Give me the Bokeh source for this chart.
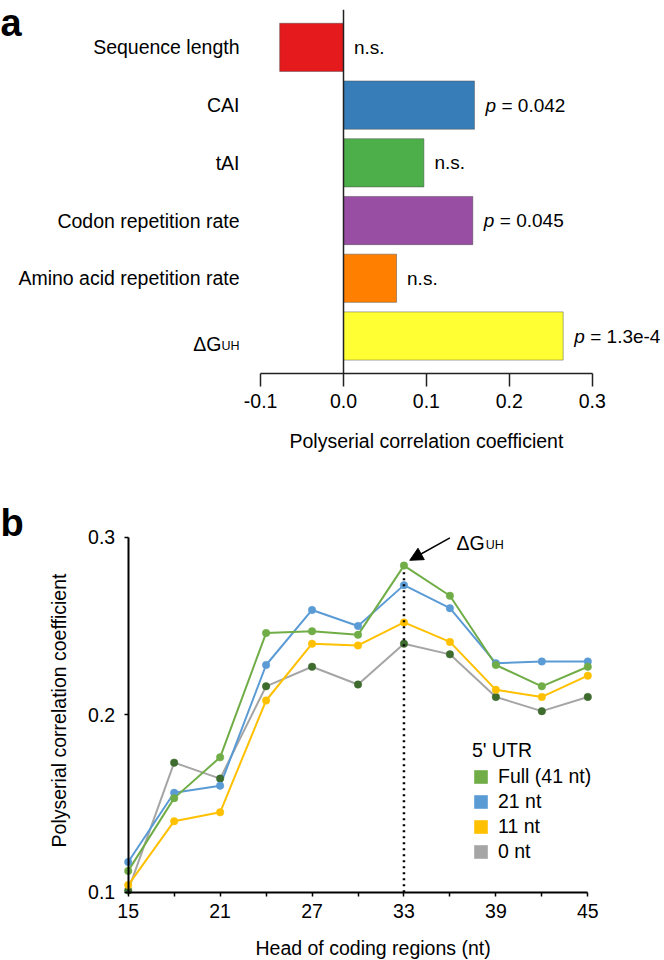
import math
from bokeh.plotting import figure
from bokeh.models import (Range1d, LinearAxis, FixedTicker, PrintfTickFormatter,
                          Arrow, NormalHead, Legend, LegendItem)
from bokeh.layouts import column
from bokeh.core.properties import value
from bokeh.embed import file_html
from bokeh.resources import INLINE

FONT = "Liberation Sans"
FS = "19.5px"
NAN = float("nan")

# ---------------- Panel a data ----------------
features = ["Sequence length", "CAI", "tAI", "Codon repetition rate",
            "Amino acid repetition rate", "ΔG"]
feature_sub = ["", "", "", "", "", "UH"]
coefficients = [-0.077, 0.158, 0.097, 0.156, 0.064, 0.265]
bar_colors = ["#E41A1C", "#377EB8", "#4DAF4A", "#984EA3", "#FF7F00", "#FFFF33"]
p_values = ["n.s.", "0.042", "n.s.", "0.045", "n.s.", "1.3e-4"]
a_ticks = [-0.1, 0.0, 0.1, 0.2, 0.3]

# ---------------- Panel b data ----------------
head_nt = [15, 18, 21, 24, 27, 30, 33, 36, 39, 42, 45]
full_41 = [0.112, 0.153, 0.176, 0.246, 0.247, 0.245, 0.284, 0.267, 0.228, 0.216, 0.227]
nt_21 = [0.117, 0.156, 0.160, 0.228, 0.259, 0.250, 0.273, 0.260, 0.229, 0.230, 0.230]
nt_11 = [0.104, 0.140, 0.145, 0.208, 0.240, 0.239, 0.252, 0.241, 0.214, 0.210, 0.222]
nt_0 = [0.101, 0.173, 0.164, 0.216, 0.227, 0.217, 0.240, 0.234, 0.210, 0.202, 0.210]
series_names = ["Full (41 nt)", "21 nt", "11 nt", "0 nt"]
series_vals = [full_41, nt_21, nt_11, nt_0]
line_colors = ["#70AD47", "#5B9BD5", "#FFC000", "#A5A5A5"]
marker_colors = ["#70AD47", "#5B9BD5", "#FFC000", "#3E6B2E"]
b_major = [15, 21, 27, 33, 39, 45]
b_minor = [18, 24, 30, 36, 42]
b_yticks = [0.1, 0.2, 0.3]

W = 664

# ================= Panel a =================
HA = 453
PXA = 829.0        # px per unit
ZX = 343.0         # frame x of zero
ROW0 = 46.85       # frame y of first row centre
PITCH = 57.73      # px per row
pa = figure(width=W, height=HA,
            x_range=Range1d(-ZX / PXA, (W - ZX) / PXA),
            y_range=Range1d((HA - ROW0) / PITCH, -ROW0 / PITCH),
            x_axis_type=None, y_axis_type=None, toolbar_location=None,
            output_backend="svg", min_border=0, outline_line_color=None)
pa.xgrid.visible = False
pa.ygrid.visible = False

idx = list(range(len(features)))
pa.hbar(y=idx, left=0, right=coefficients, height=0.835, fill_color=bar_colors,
        line_color="#444444", line_alpha=0.45, line_width=1)

axis_row = (372.7 - ROW0) / PITCH
top_row = (9.3 - ROW0) / PITCH
pa.segment(x0=[0], y0=[top_row], x1=[0], y1=[axis_row], line_color="#222222", line_width=1.5)

# category labels
plain = [i for i in idx if not feature_sub[i]]
pa.text(x=[0] * len(plain), y=plain, text=[features[i] for i in plain],
        x_offset=-104, text_align="right", text_baseline="middle",
        text_font=value(FONT), text_font_size=FS, text_color="black")
subs = [i for i in idx if feature_sub[i]]
pa.text(x=[0] * len(subs), y=[i + 0.14 for i in subs], text=[features[i] for i in subs],
        x_offset=-122, text_align="right", text_baseline="alphabetic",
        text_font=value(FONT), text_font_size=FS, text_color="black")
pa.text(x=[0] * len(subs), y=[i + 0.14 for i in subs], text=[feature_sub[i] for i in subs],
        x_offset=-104, y_offset=1.5, text_align="right", text_baseline="alphabetic",
        text_font=value(FONT), text_font_size="12.5px", text_color="black")

# significance annotations
ns = [i for i in idx if p_values[i] == "n.s."]
sig = [i for i in idx if p_values[i] != "n.s."]
pa.text(x=[max(coefficients[i], 0) for i in ns], y=ns, text=["n.s." for i in ns],
        x_offset=10.5, text_align="left", text_baseline="middle",
        text_font=value(FONT), text_font_size="19px", text_color="black")
pa.text(x=[max(coefficients[i], 0) for i in sig], y=sig, text=["p" for i in sig],
        x_offset=11, text_align="left", text_baseline="middle",
        text_font=value(FONT), text_font_size="19px", text_font_style="italic",
        text_color="black")
pa.text(x=[max(coefficients[i], 0) for i in sig], y=sig, text=["= " + p_values[i] for i in sig],
        x_offset=27, text_align="left", text_baseline="middle",
        text_font=value(FONT), text_font_size="19px", text_color="black")

ax_a = LinearAxis(fixed_location=axis_row, bounds=(a_ticks[0], a_ticks[-1]),
                  ticker=FixedTicker(ticks=a_ticks),
                  formatter=PrintfTickFormatter(format="%.1f"),
                  major_tick_out=13, major_tick_in=0, minor_tick_out=0, minor_tick_in=0,
                  axis_line_width=1.5, major_tick_line_width=1.5,
                  axis_line_color="#222222", major_tick_line_color="#222222",
                  major_label_standoff=8, major_label_text_font=FONT,
                  major_label_text_font_size=FS, major_label_text_color="black")
pa.add_layout(ax_a, "below")

pa.text(x=[(a_ticks[0] + a_ticks[-1]) / 2], y=[(440.5 - ROW0) / PITCH],
        text=["Polyserial correlation coefficient"], text_align="center",
        text_baseline="middle", text_font=value(FONT), text_font_size=FS,
        text_color="black")
pa.text(x=[pa.x_range.start], y=[(22.5 - ROW0) / PITCH], text=["a"],
        text_align="left", text_baseline="alphabetic", text_font=value(FONT),
        text_font_size="38px", text_font_style="bold", text_color="black")

# ================= Panel b =================
HB = 507
PXX = 15.32        # px per nt
X15 = 127.7        # frame x of 15
PXY = 1775.0       # px per unit
Y01 = 438.7        # frame y (from top) of 0.1
pb = figure(width=W, height=HB,
            x_range=Range1d(15 - X15 / PXX, 15 + (W - X15) / PXX),
            y_range=Range1d(0.1 - (HB - Y01) / PXY, 0.1 + Y01 / PXY),
            x_axis_type=None, y_axis_type=None, toolbar_location=None,
            output_backend="svg", min_border=0, outline_line_color=None)
pb.xgrid.visible = False
pb.ygrid.visible = False

for vals, lc in reversed(list(zip(series_vals, line_colors))):
    pb.line(head_nt, vals, line_color=lc, line_width=2)
for vals, mc in reversed(list(zip(series_vals, marker_colors))):
    pb.scatter(head_nt, vals, size=7.5, fill_color=mc, line_color=mc, line_width=0.5)

peak_i = max(range(len(full_41)), key=lambda i: full_41[i])
peak_x, peak_y = head_nt[peak_i], full_41[peak_i]
pb.segment(x0=[peak_x], y0=[0.1], x1=[peak_x], y1=[peak_y - 0.002],
           line_color="black", line_width=2.5, line_dash="2 4")

pb.add_layout(Arrow(end=NormalHead(size=13, fill_color="black", line_color="black"),
                    x_start=peak_x + 3.0, y_start=peak_y + 0.0156,
                    x_end=peak_x + 0.38, y_end=peak_y + 0.003,
                    line_color="black", line_width=1.5))
pb.text(x=[peak_x + 3.43], y=[peak_y + 0.0125], text=["ΔG"], text_align="left",
        text_baseline="alphabetic", text_font=value(FONT), text_font_size=FS,
        text_color="black")
pb.text(x=[peak_x + 3.43], y=[peak_y + 0.0125], text=["UH"], x_offset=29.3, y_offset=1.5,
        text_align="left", text_baseline="alphabetic", text_font=value(FONT),
        text_font_size="12.5px", text_color="black")

xb = LinearAxis(fixed_location=0.1, bounds=(b_major[0], b_major[-1]),
                ticker=FixedTicker(ticks=b_major, minor_ticks=b_minor),
                major_tick_out=4, major_tick_in=0, minor_tick_out=4, minor_tick_in=0,
                axis_line_width=2, major_tick_line_width=1.5, minor_tick_line_width=1.5,
                major_label_standoff=8, major_label_text_font=FONT,
                major_label_text_font_size=FS, major_label_text_color="black")
pb.add_layout(xb, "below")
yb = LinearAxis(fixed_location=15, bounds=(b_yticks[0], b_yticks[-1]),
                ticker=FixedTicker(ticks=b_yticks),
                formatter=PrintfTickFormatter(format="%.1f"),
                major_tick_out=4, major_tick_in=0, minor_tick_out=0, minor_tick_in=0,
                axis_line_width=2, major_tick_line_width=1.5,
                major_label_standoff=9, major_label_text_font=FONT,
                major_label_text_font_size=FS, major_label_text_color="black")
pb.add_layout(yb, "left")

pb.text(x=[15 + (372.6 - X15) / PXX], y=[0.1 - (947 - 891.7) / PXY],
        text=["Head of coding regions (nt)"], text_align="center", text_baseline="middle",
        text_font=value(FONT), text_font_size=FS, text_color="black")
pb.text(x=[15 - (X15 - 58) / PXX], y=[0.1 + (891.7 - 710) / PXY],
        text=["Polyserial correlation coefficient"], angle=math.pi / 2,
        text_align="center", text_baseline="middle",
        text_font=value(FONT), text_font_size=FS, text_color="black")
pb.text(x=[pb.x_range.start], y=[0.1 + (891.7 - 522) / PXY], text=["b"],
        text_align="left", text_baseline="alphabetic", text_font=value(FONT),
        text_font_size="38px", text_font_style="bold", text_color="black")

dummies = [pb.quad(left=[NAN], right=[NAN], top=[NAN], bottom=[NAN],
                   fill_color=c, line_color=None)
           for c in line_colors]
legend = Legend(items=[LegendItem(label=n, renderers=[r]) for n, r in zip(series_names, dummies)],
                location=(472, 97), title="5' UTR", title_standoff=3,
                title_text_font=FONT, title_text_font_size=FS, title_text_font_style="normal",
                title_text_color="black",
                label_text_font=FONT, label_text_font_size=FS, label_text_color="black",
                label_standoff=9, glyph_width=17, glyph_height=17, label_height=20, spacing=2,
                padding=0, margin=0, border_line_color=None, background_fill_alpha=0)
pb.add_layout(legend)

layout = column(pa, pb, spacing=0)
open("out.html", "w").write(file_html(layout, INLINE))
